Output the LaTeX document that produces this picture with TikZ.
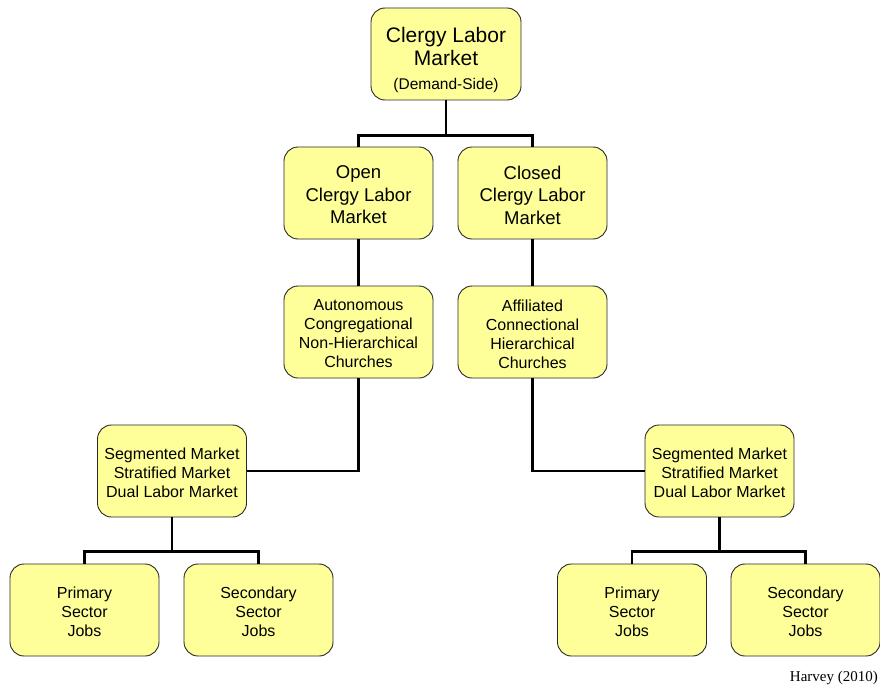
\documentclass[tikz,border=0pt]{standalone}
\usepackage{fontspec}
\setmainfont{Liberation Sans}
\newfontfamily\timesf{Liberation Serif}
\definecolor{boxfill}{RGB}{255,255,153}
\definecolor{boxdraw}{RGB}{40,40,40}
\begin{document}
\begin{tikzpicture}[x=1pt,y=-1pt,
  boxshape/.style={draw=boxdraw, line width=0.9pt, fill=boxfill, rounded corners=14pt,
    minimum width=149pt, minimum height=92pt, inner sep=0pt},
  boxtext/.style={align=center, inner sep=0pt, font=\fontsize{16}{19}\selectfont},
  midtext/.style={boxtext, font=\fontsize{18.5}{22.5}\selectfont},
  link/.style={draw=black, line width=2.6pt, line join=miter}
]
\useasboundingbox (0,0) rectangle (880,690);
% boxes
\node[boxshape, minimum width=150pt] (top) at (446,54) {};
\node[boxshape] (open) at (358.5,193) {};
\node[boxshape] (closed) at (532.5,193) {};
\node[boxshape] (auto) at (358.5,332) {};
\node[boxshape] (affil) at (532.5,332) {};
\node[boxshape] (segL) at (172,471) {};
\node[boxshape] (segR) at (719.5,471) {};
\node[boxshape] (primL) at (84.5,610) {};
\node[boxshape] (secL) at (258.5,610) {};
\node[boxshape] (primR) at (632,610) {};
\node[boxshape] (secR) at (805.5,610) {};
% texts
\node[boxtext, font=\fontsize{21}{23.5}\selectfont] (topT) at ([yshift=-5.5pt]top.center) {Clergy Labor\\Market\\\fontsize{15.5}{18}\selectfont(Demand-Side)};
\node[midtext] (openT) at ([yshift=-2pt]open.center) {Open\\Clergy Labor\\Market};
\node[midtext] (closedT) at ([yshift=-2pt]closed.center) {Closed\\Clergy Labor\\Market};
\node[boxtext] (autoT) at ([yshift=-2pt]auto.center) {Autonomous\\Congregational\\Non-Hierarchical\\Churches};
\node[boxtext] (affilT) at ([yshift=-2pt]affil.center) {Affiliated\\Connectional\\Hierarchical\\Churches};
\node[boxtext] (segLT) at ([yshift=-2pt]segL.center) {Segmented Market\\Stratified Market\\Dual Labor Market};
\node[boxtext] (segRT) at ([yshift=-2pt]segR.center) {Segmented Market\\Stratified Market\\Dual Labor Market};
\node[boxtext] (primLT) at ([yshift=-2pt]primL.center) {Primary\\Sector\\Jobs};
\node[boxtext] (secLT) at ([yshift=-2pt]secL.center) {Secondary\\Sector\\Jobs};
\node[boxtext] (primRT) at ([yshift=-2pt]primR.center) {Primary\\Sector\\Jobs};
\node[boxtext] (secRT) at ([yshift=-2pt]secR.center) {Secondary\\Sector\\Jobs};
\node[anchor=south east, inner sep=0pt, font=\timesf\fontsize{15}{17}\selectfont] (cite) at (878,685) {Harvey (2010)};

% connectors
\draw[link] (top.south) -- ++(0,35) coordinate (j1);
\draw[link] (open.north) |- (j1) -| (closed.north);
\draw[link] (open.south) -- (auto.north);
\draw[link] (closed.south) -- (affil.north);
\draw[link] (auto.south) |- (segL.east);
\draw[link] (affil.south) |- (segR.west);
\draw[link] (segL.south) -- ++(0,34) coordinate (j2);
\draw[link] (primL.north) |- (j2) -| (secL.north);
\draw[link] (segR.south) -- ++(0,34) coordinate (j3);
\draw[link] (primR.north) |- (j3) -| (secR.north);
\end{tikzpicture}
\end{document}
